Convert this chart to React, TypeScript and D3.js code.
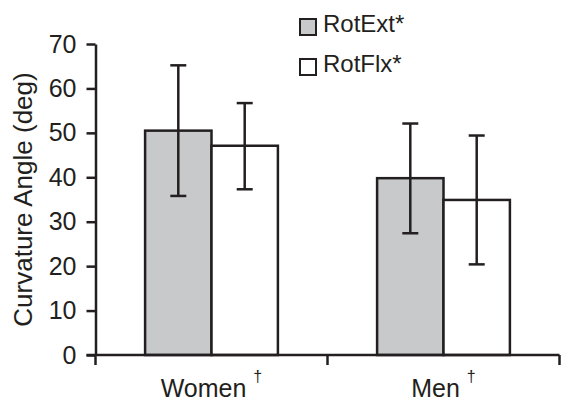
import React, { useEffect, useRef } from 'react';
import * as d3 from 'd3';

const categories = ['Women', 'Men'];
const series = ['RotExt*', 'RotFlx*'];
const seriesFill = ['#c8c9cb', '#ffffff'];
// means per category, per series
const means = [
  [50.5, 47.1],
  [39.8, 34.9],
];
const errLow = [
  [35.8, 37.3],
  [27.4, 20.4],
];
const errHigh = [
  [65.2, 56.7],
  [52.1, 49.4],
];
const yTicks = [0, 10, 20, 30, 40, 50, 60, 70];

const INK = '#231f20';
const FONT = '"Liberation Sans", Arial, Helvetica, sans-serif';
const SW = 2.5;

const App = () => {
  const svgRef = useRef<SVGSVGElement | null>(null);

  useEffect(() => {
    if (!svgRef.current) return;
    const svg = d3.select(svgRef.current);
    svg.selectAll('*').remove();

    const W = 561;
    const H = 402;
    const margin = { top: 44, right: 1.5, bottom: 47, left: 95.5 };
    const width = W - margin.left - margin.right;
    const height = H - margin.top - margin.bottom;

    const g = svg.append('g').attr('transform', `translate(${margin.left},${margin.top})`);

    const x0 = d3.scaleBand<string>().domain(categories).range([0, width]).padding(0);
    const x1 = d3
      .scaleBand<string>()
      .domain(series)
      .range([0, x0.bandwidth()])
      .paddingInner(0)
      .paddingOuter(0.747);
    const y = d3.scaleLinear().domain([0, 70]).range([height, 0]);

    // Bars
    categories.forEach((cat, ci) => {
      const grp = g.append('g').attr('transform', `translate(${x0(cat)},0)`);
      series.forEach((s, si) => {
        grp
          .append('rect')
          .attr('x', x1(s)!)
          .attr('y', y(means[ci][si]))
          .attr('width', x1.bandwidth())
          .attr('height', y(0) - y(means[ci][si]))
          .attr('fill', seriesFill[si])
          .attr('stroke', INK)
          .attr('stroke-width', SW);
      });
      // Error bars
      series.forEach((s, si) => {
        const cx = x1(s)! + x1.bandwidth() / 2;
        const cap = 8;
        grp
          .append('line')
          .attr('x1', cx)
          .attr('x2', cx)
          .attr('y1', y(errLow[ci][si]))
          .attr('y2', y(errHigh[ci][si]))
          .attr('stroke', INK)
          .attr('stroke-width', SW);
        [errLow[ci][si], errHigh[ci][si]].forEach((v) => {
          grp
            .append('line')
            .attr('x1', cx - cap)
            .attr('x2', cx + cap)
            .attr('y1', y(v))
            .attr('y2', y(v))
            .attr('stroke', INK)
            .attr('stroke-width', SW);
        });
      });
    });

    // Y axis
    const yAxis = g
      .append('g')
      .call(d3.axisLeft(y).tickValues(yTicks).tickSize(9).tickSizeOuter(0).tickPadding(10));
    yAxis.select('.domain').attr('stroke', INK).attr('stroke-width', SW);
    yAxis.selectAll('.tick line').attr('stroke', INK).attr('stroke-width', SW);
    yAxis
      .selectAll('.tick text')
      .attr('fill', INK)
      .attr('font-family', FONT)
      .attr('font-size', '25px');

    // X axis (ticks at category boundaries)
    g.append('line')
      .attr('x1', -9)
      .attr('x2', width)
      .attr('y1', height)
      .attr('y2', height)
      .attr('stroke', INK)
      .attr('stroke-width', SW);
    const bounds = categories.map((c) => x0(c)!).concat([width]);
    g.selectAll('.xtick')
      .data(bounds)
      .enter()
      .append('line')
      .attr('x1', (d) => d)
      .attr('x2', (d) => d)
      .attr('y1', height)
      .attr('y2', height + 10)
      .attr('stroke', INK)
      .attr('stroke-width', SW);

    categories.forEach((cat) => {
      const t = g
        .append('text')
        .attr('x', x0(cat)! + x0.bandwidth() / 2)
        .attr('y', height + 42)
        .attr('text-anchor', 'middle')
        .attr('fill', INK)
        .attr('font-family', FONT)
        .attr('font-size', '25px');
      t.append('tspan').text(cat + ' ');
      t.append('tspan').attr('font-size', '16px').attr('dy', -15).text('†');
    });

    // Y axis title
    g.append('text')
      .attr('transform', 'rotate(-90)')
      .attr('x', -height / 2)
      .attr('y', -margin.left + 32)
      .attr('text-anchor', 'middle')
      .attr('fill', INK)
      .attr('font-family', FONT)
      .attr('font-size', '26px')
      .text('Curvature Angle (deg)');

    // Legend
    const legend = svg.append('g').attr('transform', 'translate(300,19)');
    series.forEach((s, i) => {
      const row = legend.append('g').attr('transform', `translate(0,${i * 40})`);
      row
        .append('rect')
        .attr('x', 0)
        .attr('y', 0)
        .attr('width', 16)
        .attr('height', 16)
        .attr('fill', seriesFill[i])
        .attr('stroke', INK)
        .attr('stroke-width', 2);
      row
        .append('text')
        .attr('x', 23)
        .attr('y', 13)
        .attr('fill', INK)
        .attr('font-family', FONT)
        .attr('font-size', '24px')
        .text(s);
    });
  }, []);

  return (
    <svg
      ref={svgRef}
      width={561}
      height={402}
      style={{ position: 'absolute', left: 0, top: 0, background: '#fff' }}
    />
  );
};

export default App;
